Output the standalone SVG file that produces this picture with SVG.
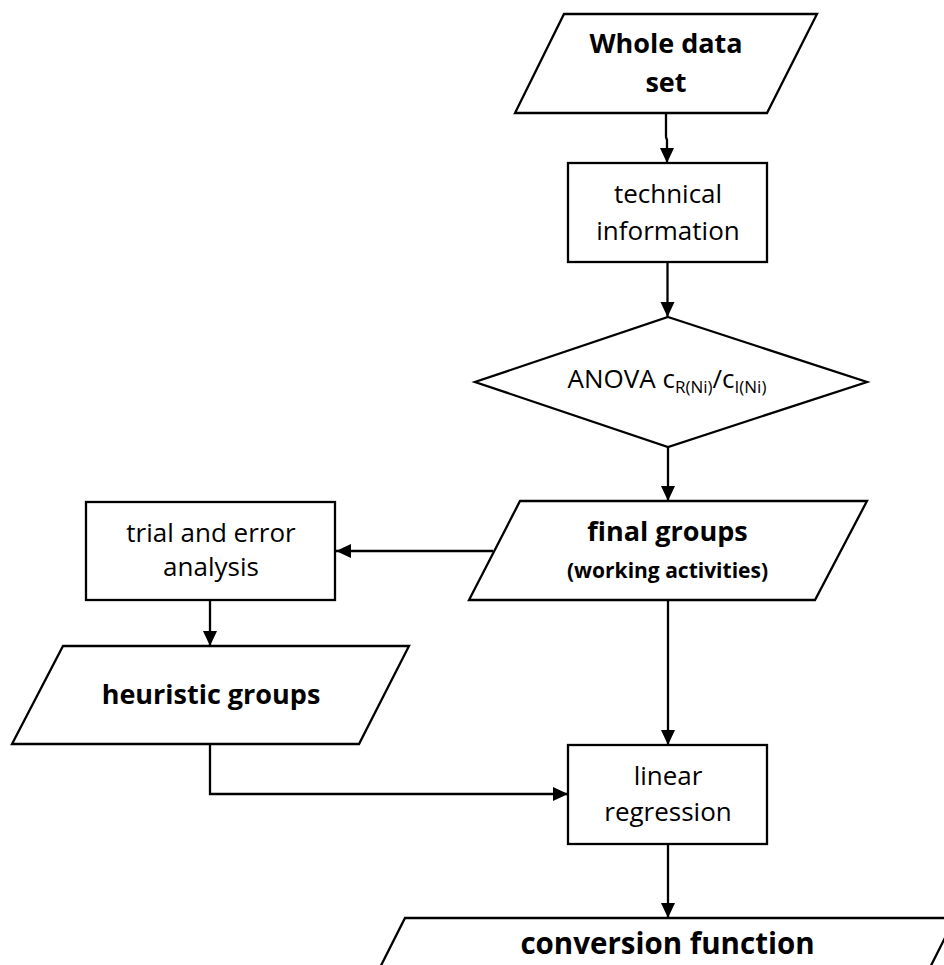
<svg xmlns="http://www.w3.org/2000/svg" width="944" height="965" viewBox="0 0 944 965">
<style>
.shape{fill:#fff;stroke:#000;stroke-width:2.3}
.conn{fill:none;stroke:#000;stroke-width:2.3}
.t{font-family:"Open Sans","Liberation Sans",sans-serif;font-size:26px;fill:#000;text-anchor:middle}
.b{font-family:"Open Sans","Liberation Sans",sans-serif;font-weight:bold;font-size:27px;fill:#000;text-anchor:middle}
.bs{font-size:21px}
.bl{font-size:29.5px}
</style>
<defs>
<marker id="arr" markerUnits="userSpaceOnUse" markerWidth="16" markerHeight="15" refX="15" refY="7" orient="auto">
<path d="M0,0 L15,7 L0,14 Z" fill="#000"/>
</marker>
</defs>
<rect width="944" height="965" fill="#fff"/>
<g id="connectors">
<path class="conn" d="M666,113 V137 L667,140 V163" marker-end="url(#arr)"/>
<path class="conn" d="M667.5,262 V317" marker-end="url(#arr)"/>
<path class="conn" d="M668,447 V501" marker-end="url(#arr)"/>
<path class="conn" d="M493,551 H336" marker-end="url(#arr)"/>
<path class="conn" d="M210,600 V646" marker-end="url(#arr)"/>
<path class="conn" d="M668,600 V745" marker-end="url(#arr)"/>
<path class="conn" d="M210,744 V794 H568" marker-end="url(#arr)"/>
<path class="conn" d="M668,844 V918" marker-end="url(#arr)"/>
</g>
<g id="whole-data-set">
<polygon class="shape" points="564,14 817,14 767,113 515,113"/>
<text class="b" x="666" y="53">Whole data</text>
<text class="b" x="666" y="92">set</text>
</g>
<g id="technical-information">
<rect class="shape" x="568" y="163" width="199" height="99"/>
<text class="t" x="668" y="203">technical</text>
<text class="t" x="668" y="240">information</text>
</g>
<g id="anova">
<polygon class="shape" points="668,317 867,382 668,447 475,382"/>
<text class="t" x="667" y="388" font-size="24">ANOVA c<tspan font-size="17" dy="5">R(Ni)</tspan><tspan dy="-5">/c</tspan><tspan font-size="17" dy="5">I(Ni)</tspan></text>
</g>
<g id="final-groups">
<polygon class="shape" points="520,501 867,501 815,600 469,600"/>
<text class="b" x="667.5" y="541">final groups</text>
<text class="b bs" x="667.5" y="578">(working activities)</text>
</g>
<g id="trial-and-error">
<rect class="shape" x="86" y="502" width="249" height="98"/>
<text class="t" x="211" y="542">trial and error</text>
<text class="t" x="211" y="576">analysis</text>
</g>
<g id="heuristic-groups">
<polygon class="shape" points="63,646 409,646 359,744 12,744"/>
<text class="b" x="211" y="704">heuristic groups</text>
</g>
<g id="linear-regression">
<rect class="shape" x="568" y="745" width="199" height="99"/>
<text class="t" x="668" y="785">linear</text>
<text class="t" x="668" y="821">regression</text>
</g>
<g id="conversion-function">
<polygon class="shape" points="405,918 955,918 905,1017 355,1017"/>
<text class="b bl" x="667.5" y="954">conversion function</text>
</g>
</svg>
